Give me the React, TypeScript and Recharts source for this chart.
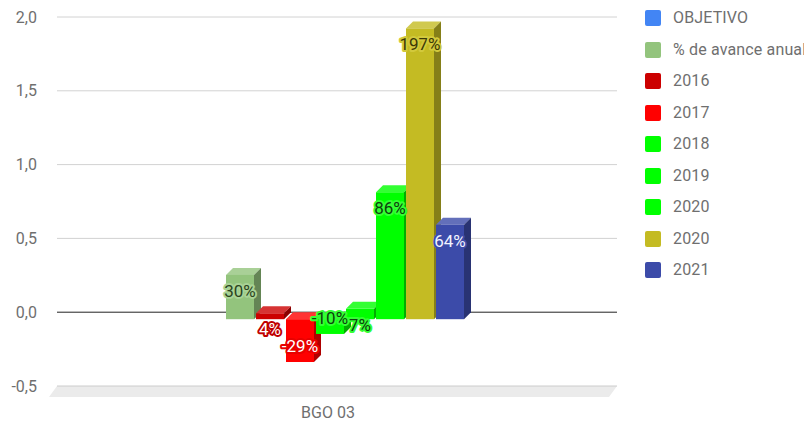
import { BarChart, Bar, XAxis, YAxis, CartesianGrid, ReferenceArea, LabelList } from 'recharts';

// values
const categories = ['BGO 03'];
const seriesNames = ['OBJETIVO', '% de avance anual', '2016', '2017', '2018', '2019', '2020', '2020', '2021'];
const seriesKeys = ['objetivo', 'avance', 'y2016', 'y2017', 'y2018', 'y2019', 'y2020a', 'y2020b', 'y2021'];
const seriesValues: (number | null)[] = [null, 0.3, 0.04, -0.29, -0.1, 0.07, 0.86, 1.97, 0.64];
const yTicks = [-0.5, 0, 0.5, 1, 1.5, 2];

const seriesColors = ['#4285f4', '#93c47d', '#cc0000', '#ff0000', '#00ff00', '#00ff00', '#00ff00', '#c4bb23', '#3c4ba9'];
const labelFill = ['#fff', '#2b4420', '#fff', '#fff', '#0d400d', '#0d400d', '#0d400d', '#3b3806', '#f2f3ff'];
const labelHalo = ['#4285f4', '#a9d396', '#c00000', '#e80000', '#33ff33', '#33ff33', '#33ff33', '#d2c93c', '#3c4ba9'];

const DX = 7; // depth of the 3d effect
const DY = 7;

const data = categories.map((name) => {
  const row: Record<string, any> = { name };
  seriesKeys.forEach((k, i) => (row[k] = seriesValues[i]));
  return row;
});

function shade(hex: string, amt: number) {
  const n = parseInt(hex.slice(1), 16);
  const ch = [(n >> 16) & 255, (n >> 8) & 255, n & 255].map((c) =>
    Math.round(amt > 0 ? c + (255 - c) * amt : c * (1 + amt))
  );
  return '#' + ch.map((c) => c.toString(16).padStart(2, '0')).join('');
}

const fmtTick = (v: number) => v.toFixed(1).replace('.', ',');

function Bar3D(props: any) {
  const { x, y, width, height, idx } = props;
  if (seriesValues[idx] == null || x == null) return null;
  const color = seriesColors[idx];
  const top = Math.min(y, y + height);
  const h = Math.abs(height);
  const fx = x - DX;
  const fy = top + DY;
  return (
    <g>
      <polygon
        points={`${fx},${fy} ${x},${top} ${x + width},${top} ${fx + width},${fy}`}
        fill={shade(color, 0.2)}
      />
      <polygon
        points={`${fx + width},${fy} ${x + width},${top} ${x + width},${top + h} ${fx + width},${fy + h}`}
        fill={shade(color, -0.32)}
      />
      <rect x={fx} y={fy} width={width} height={h} fill={color} />
    </g>
  );
}

function BarLabel(props: any) {
  const { idx } = props;
  const v = seriesValues[idx];
  if (v == null) return null;
  const vb = props.viewBox || props;
  const { x, y, width, height } = vb;
  if (x == null) return null;
  const top = Math.min(y, y + height);
  const h = Math.abs(height);
  const cx = x + width / 2 - DX;
  const cy = v >= 0 ? top + DY + 16 : top + h + DY - 16;
  return (
    <text
      x={cx}
      y={cy}
      textAnchor="middle"
      dominantBaseline="central"
      fontSize={17}
      fontFamily="Roboto"
      fill={labelFill[idx]}
      stroke={labelHalo[idx]}
      strokeWidth={4}
      strokeLinejoin="round"
      style={{ paintOrder: 'stroke' }}
    >
      {Math.round(v * 100)}%
    </text>
  );
}

function Floor(props: any) {
  const { x, y, width, height } = props;
  const b = y + height;
  return (
    <g>
      <polygon
        points={`${x},${b} ${x + width},${b} ${x + width - 8},${b + 11} ${x - 8},${b + 11}`}
        fill="#ebebeb"
      />
      <line x1={x} x2={x + width} y1={b} y2={b} stroke="#cccccc" />
    </g>
  );
}

const XTick = (props: any) => {
  const { x, y, payload } = props;
  return (
    <text x={x - 9} y={y + 26} textAnchor="middle" dominantBaseline="central" fontSize={16} fill="#6f6f6f" fontFamily="Roboto">
      {payload.value}
    </text>
  );
};

export default function App() {
  return (
    <div style={{ position: 'relative', width: 804, height: 417, overflow: 'hidden', fontFamily: 'Roboto' }}>
      <style>{'html,body{overflow:hidden}'}</style>
      <BarChart
        width={804}
        height={417}
        data={data}
        margin={{ top: 9, right: 195, bottom: 0, left: 0 }}
        barSize={28}
        barGap={2}
        style={{ fontFamily: 'Roboto' }}
      >
        <CartesianGrid vertical={false} horizontalValues={[0.5, 1, 1.5, 2]} stroke="#d2d2d2" />
        <CartesianGrid vertical={false} horizontalValues={[0]} stroke="#222222" />
        <ReferenceArea y1={-0.5} y2={-0.45} shape={<Floor />} />
        <XAxis dataKey="name" axisLine={false} tickLine={false} tickSize={0} tickMargin={0} height={39} tick={<XTick />} />
        <YAxis
          domain={[-0.5, 2]}
          ticks={yTicks}
          width={49}
          axisLine={false}
          tickLine={false}
          tickSize={0}
          tickMargin={20}
          tickFormatter={fmtTick}
          tick={{ fontSize: 16, fill: '#6f6f6f' }}
        />
        {seriesKeys.map((k, i) => (
          <Bar
            key={k}
            dataKey={k}
            name={seriesNames[i]}
            fill={seriesColors[i]}
            isAnimationActive={false}
            shape={(p: any) => <Bar3D {...p} idx={i} />}
          >
            <LabelList dataKey={k} content={(p: any) => <BarLabel {...p} idx={i} />} />
          </Bar>
        ))}
      </BarChart>
      <div style={{ position: 'absolute', left: 637, top: 0, width: 200, height: 300 }}>
        {seriesNames.map((n, i) => (
          <div
            key={i}
            style={{ position: 'absolute', top: 2 + i * 31.5, left: 0, width: 200, height: 16, display: 'flex', alignItems: 'center', whiteSpace: 'nowrap' }}
          >
            <div style={{ width: 16, height: 16, flex: 'none', borderRadius: 2, background: seriesColors[i] }} />
            <span style={{ marginLeft: 12, fontSize: 16, letterSpacing: 0.15, color: '#6f6f6f', lineHeight: '16px' }}>{n}</span>
          </div>
        ))}
      </div>
    </div>
  );
}
